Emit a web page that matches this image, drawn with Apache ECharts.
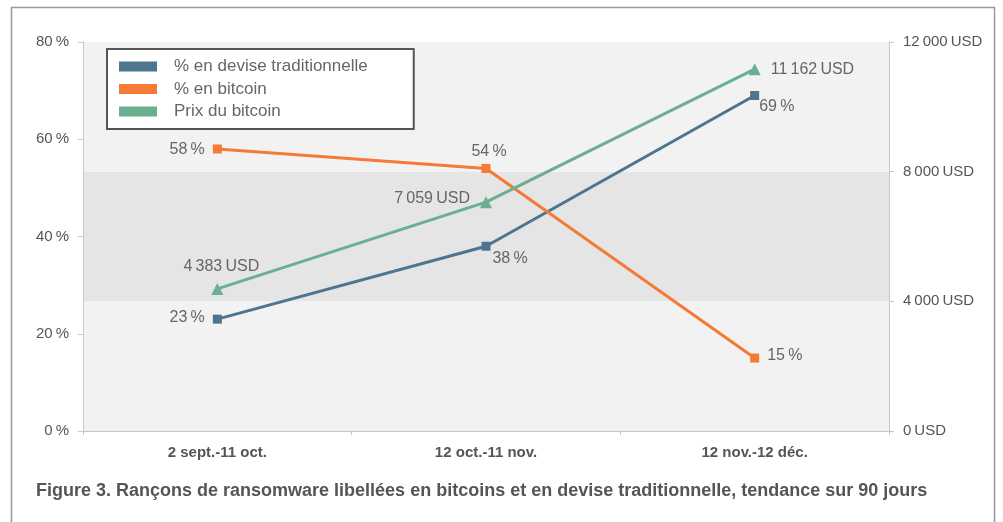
<!DOCTYPE html>
<html><head><meta charset="utf-8">
<script src="https://cdn.jsdelivr.net/npm/echarts@6/dist/echarts.min.js"></script>
<style>html,body{margin:0;padding:0;background:#fff}#c{width:1003px;height:522px}</style>
</head><body><div id="c"></div>
<script>
const categories = ['2 sept.-11 oct.', '12 oct.-11 nov.', '12 nov.-12 déc.'];
const devise = [23, 38, 69];
const bitcoin = [58, 54, 15];
const prix = [4383, 7059, 11162];
const seriesNames = ['% en devise traditionnelle', '% en bitcoin', 'Prix du bitcoin'];
const leftTicks = [0, 20, 40, 60, 80];
const rightTicks = [0, 4000, 8000, 12000];
const caption = 'Figure 3. Rançons de ransomware libellées en bitcoins et en devise traditionnelle, tendance sur 90 jours';

const TS = '\u2009';
const fmtNum = v => String(v).replace(/\B(?=(\d{3})+(?!\d))/g, TS);
const fmtPct = v => v + TS + '%';
const fmtUsd = v => fmtNum(v) + TS + 'USD';
const FONT = '"Liberation Sans", "DejaVu Sans", sans-serif';
const colors = ['#4e7590', '#f47a36', '#6aaf8f'];
const lblStyle = {color: '#666', fontSize: 16, fontFamily: FONT};

const chart = echarts.init(document.getElementById('c'));
chart.setOption({
  animation: false,
  color: colors,
  textStyle: {fontFamily: FONT},
  grid: {left: 83, right: 114, top: 42, bottom: 91},
  legend: {
    orient: 'vertical', left: 107, top: 49,
    data: seriesNames.map(n => ({name: n, icon: 'rect'})),
    itemWidth: 38, itemHeight: 10, itemGap: 5.5,
    padding: [9, 46, 9, 12],
    borderColor: '#555', borderWidth: 2, backgroundColor: '#fff',
    textStyle: {color: '#666', fontSize: 17, lineHeight: 17, padding: [0, 0, 0, 12], fontFamily: FONT},
    z: 10
  },
  graphic: [
    {type: 'rect', shape: {x: 11.5, y: 7.5, width: 983, height: 530}, style: {fill: 'none', stroke: '#999', lineWidth: 1.5}, silent: true},
    {type: 'text', left: 36, top: 482, style: {text: caption, fill: '#555', font: 'bold 18px ' + FONT}}
  ],
  xAxis: {
    type: 'category', data: categories, boundaryGap: true,
    axisLine: {lineStyle: {color: '#c8c8c8'}},
    axisTick: {show: true, length: 4, lineStyle: {color: '#c8c8c8'}},
    axisLabel: {color: '#555', fontSize: 15, fontWeight: 'bold', margin: 14, fontFamily: FONT}
  },
  yAxis: [
    {
      type: 'value', min: leftTicks[0], max: leftTicks[leftTicks.length - 1], interval: 20,
      axisLine: {show: true, lineStyle: {color: '#c8c8c8'}},
      axisTick: {show: true, length: 5, lineStyle: {color: '#c8c8c8'}},
      axisLabel: {color: '#555', fontSize: 15, margin: 14, formatter: fmtPct, fontFamily: FONT},
      splitLine: {show: true, lineStyle: {color: '#c8c8c8'}}
    },
    {
      type: 'value', min: rightTicks[0], max: rightTicks[rightTicks.length - 1], interval: 4000,
      position: 'right',
      axisLine: {show: true, lineStyle: {color: '#c8c8c8'}},
      axisTick: {show: true, length: 5, lineStyle: {color: '#c8c8c8'}},
      axisLabel: {color: '#555', fontSize: 15, margin: 14, formatter: fmtUsd, fontFamily: FONT},
      splitLine: {show: false},
      splitArea: {show: true, areaStyle: {color: ['#f2f2f2', '#e5e5e5']}}
    }
  ],
  series: [
    {
      name: seriesNames[0], type: 'line', yAxisIndex: 0,
      symbol: 'rect', symbolSize: 9, lineStyle: {width: 3},
      label: {show: true, formatter: p => fmtPct(p.value), ...lblStyle},
      data: devise.map((v, i) => ({value: v, label: [
        {position: 'left', distance: 8, offset: [0, -2]},
        {position: 'bottom', distance: 0, offset: [24, 0]},
        {position: 'right', distance: 4, offset: [-4, 11]}
      ][i]}))
    },
    {
      name: seriesNames[1], type: 'line', yAxisIndex: 0,
      symbol: 'rect', symbolSize: 9, lineStyle: {width: 3},
      label: {show: true, formatter: p => fmtPct(p.value), ...lblStyle},
      data: bitcoin.map((v, i) => ({value: v, label: [
        {position: 'left', distance: 8, offset: [0, 1]},
        {position: 'top', distance: 4, offset: [3, 0]},
        {position: 'right', distance: 8, offset: [0, -2]}
      ][i]}))
    },
    {
      name: seriesNames[2], type: 'line', yAxisIndex: 1,
      symbol: 'triangle', symbolSize: 12, lineStyle: {width: 3},
      label: {show: true, formatter: p => fmtUsd(p.value), ...lblStyle},
      data: prix.map((v, i) => ({value: v, label: [
        {position: 'top', distance: 8, offset: [4, 0]},
        {position: 'left', distance: 10, offset: [0, -4]},
        {position: 'right', distance: 10}
      ][i]}))
    }
  ]
});
</script></body></html>
